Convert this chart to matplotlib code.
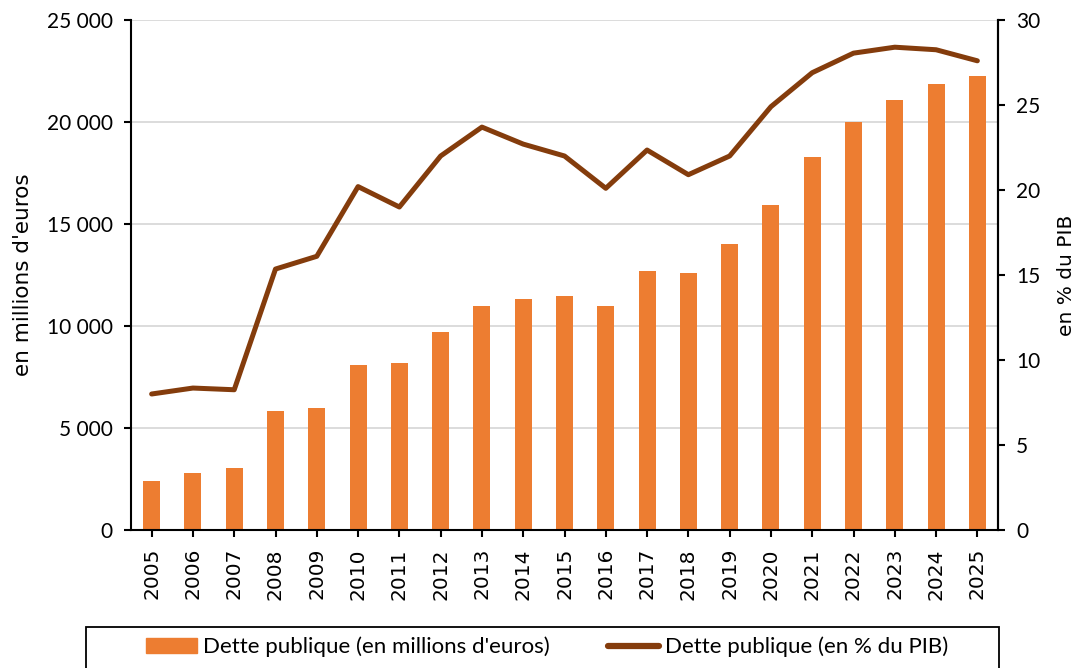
import matplotlib
matplotlib.use("Agg")
import matplotlib.pyplot as plt
from matplotlib.patches import Rectangle
from matplotlib.lines import Line2D
import numpy as np

annees = [str(a) for a in range(2005, 2026)]
dette_meur = [2400, 2800, 3050, 5850, 6000, 8100, 8200, 9700, 11000, 11300, 11450,
              11000, 12700, 12600, 14000, 15950, 18300, 20000, 21100, 21850, 22250]
dette_pib = [8.0, 8.35, 8.25, 15.35, 16.1, 20.2, 19.0, 22.0, 23.7, 22.7, 22.0,
             20.1, 22.35, 20.9, 22.0, 24.9, 26.9, 28.05, 28.4, 28.25, 27.6]

orange = "#ED7D31"
brun = "#843C0C"

fig = plt.figure(figsize=(10.83, 6.68), dpi=100)
ax = fig.add_axes([131/1083, 1-530/668, (998-131)/1083, (530-20)/668])
ax2 = ax.twinx()

x = np.arange(len(annees))
ax.bar(x, dette_meur, width=0.41, color=orange, zorder=2)
ax2.plot(x, dette_pib, color=brun, lw=3.6, solid_capstyle="round", zorder=3)

ax.set_xlim(-0.5, len(annees) - 0.5)
ax.set_ylim(0, 25000)
ax.set_yticks(range(0, 25001, 5000))
ax.set_yticklabels([f"{v:,}".replace(",", " ") for v in range(0, 25001, 5000)],
                   family="Lato", fontsize=15)
ax.yaxis.grid(True, color="#D9D9D9", lw=1.3)
ax.set_axisbelow(True)
ax.set_xticks(x)
ax.set_xticklabels(annees, rotation=90, fontsize=14.5)
ax.set_ylabel("en millions d'euros", fontsize=15.5, labelpad=10)

ax2.set_ylim(0, 30)
ax2.set_yticks(range(0, 31, 5))
ax2.set_yticklabels([str(v) for v in range(0, 31, 5)], family="Lato", fontsize=15)
ax2.set_ylabel("en % du PIB", fontsize=14.5, labelpad=12)

for a in (ax, ax2):
    a.spines["top"].set_visible(False)
    for s in ("left", "right", "bottom"):
        a.spines[s].set_linewidth(1.5)
    a.tick_params(width=1.5, length=5, pad=8)
ax2.spines["left"].set_visible(False)
ax2.spines["bottom"].set_visible(False)

# cadre de la légende
fig.patches.append(Rectangle((86/1083, -0.05), (999-86)/1083, 0.05 + 41/668,
                             transform=fig.transFigure, fill=False,
                             edgecolor="black", lw=1.3))
handles = [Rectangle((0, 0), 1, 1, color=orange),
           Line2D([0], [0], color=brun, lw=4.5, solid_capstyle="round")]
fig.legend(handles, ["Dette publique (en millions d'euros)", "Dette publique (en % du PIB)"],
           loc="center left", bbox_to_anchor=(126/1083, 1-647/668), ncol=2,
           frameon=False, prop={"family": "Lato", "size": 16},
           handlelength=2.3, handletextpad=0.27, columnspacing=2.6)

fig.savefig("out.png", dpi=100)
